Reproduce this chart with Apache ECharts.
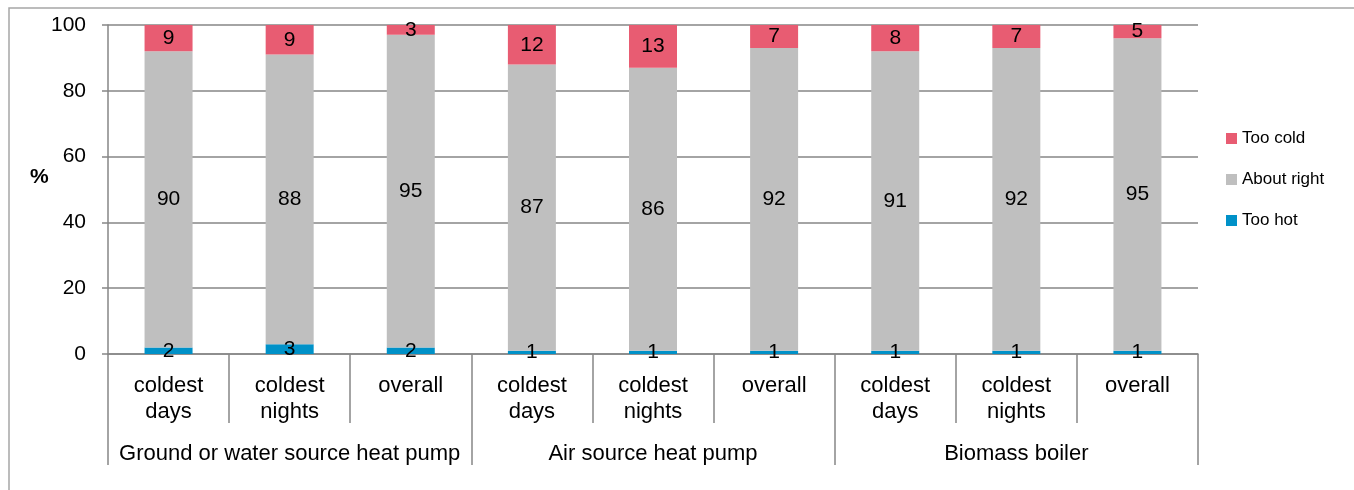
<!DOCTYPE html>
<html>
<head>
<meta charset="utf-8">
<script src="https://cdn.jsdelivr.net/npm/echarts@6/dist/echarts.min.js"></script>
<style>html,body{margin:0;padding:0;background:#fff}#c{width:1354px;height:490px}</style>
</head>
<body>
<div id="c"></div>
<script>
const categories = ['coldest\ndays','coldest\nnights','overall','coldest\ndays','coldest\nnights','overall','coldest\ndays','coldest\nnights','overall'];
const groups = ['Ground or water source heat pump','Air source heat pump','Biomass boiler'];
const tooHot = [2,3,2,1,1,1,1,1,1];
const aboutRight = [90,88,95,87,86,92,91,92,95];
const tooCold = [9,9,3,12,13,7,8,7,5];
const yTicks = [0,20,40,60,80,100];

const FONT = 'Liberation Sans, Arial, sans-serif';
const AX = '#868686';
const chart = echarts.init(document.getElementById('c'));
const lbl = {show:true, position:'inside', color:'#000', fontSize:21, fontFamily:FONT};
chart.setOption({
  animation:false,
  textStyle:{fontFamily:FONT},
  graphic:[
    {type:'rect', shape:{x:9,y:8,width:1400,height:600}, style:{fill:null, stroke:'#A6A6A6', lineWidth:1.5}, silent:true},
    {type:'text', left:30, top:167, style:{text:'%', font:'bold 21px '+FONT, fill:'#000'}}
  ],
  legend:{
    orient:'vertical', left:1221, top:125, itemWidth:11, itemHeight:11, itemGap:24,
    icon:'rect', data:['Too cold','About right','Too hot'],
    textStyle:{fontSize:17, color:'#000', fontFamily:FONT}
  },
  grid:{left:108, right:156, top:25, bottom:136, containLabel:false},
  xAxis:[
    {type:'category', data:categories, boundaryGap:true,
     axisLine:{show:true, lineStyle:{color:AX, width:1.5}},
     axisTick:{show:true, interval:0, length:69, lineStyle:{color:AX, width:1.5}},
     axisLabel:{interval:0, margin:19, fontSize:22, lineHeight:26, color:'#000', fontFamily:FONT}},
    {type:'category', data:groups, boundaryGap:true, position:'bottom',
     axisLine:{show:false},
     axisTick:{show:true, interval:0, length:111, lineStyle:{color:AX, width:1.5}},
     axisLabel:{interval:0, margin:87, fontSize:22, lineHeight:26, color:'#000', fontFamily:FONT}}
  ],
  yAxis:{type:'value', min:yTicks[0], max:yTicks[yTicks.length-1], interval:20,
    axisLine:{show:true, lineStyle:{color:AX, width:1.5}},
    axisTick:{show:true, length:6, lineStyle:{color:AX, width:1.5}},
    splitLine:{show:true, lineStyle:{color:AX, width:1.5}},
    axisLabel:{fontSize:21, color:'#000', margin:22, fontFamily:FONT}},
  series:[
    {name:'Too hot', type:'bar', stack:'a', data:tooHot, barWidth:48, itemStyle:{color:'#0091C8'}, label:lbl},
    {name:'About right', type:'bar', stack:'a', data:aboutRight, barWidth:48, itemStyle:{color:'#BFBFBF'}, label:lbl},
    {name:'Too cold', type:'bar', stack:'a', data:tooCold, barWidth:48, itemStyle:{color:'#E85C72'}, label:lbl}
  ]
});
</script>
</body>
</html>
